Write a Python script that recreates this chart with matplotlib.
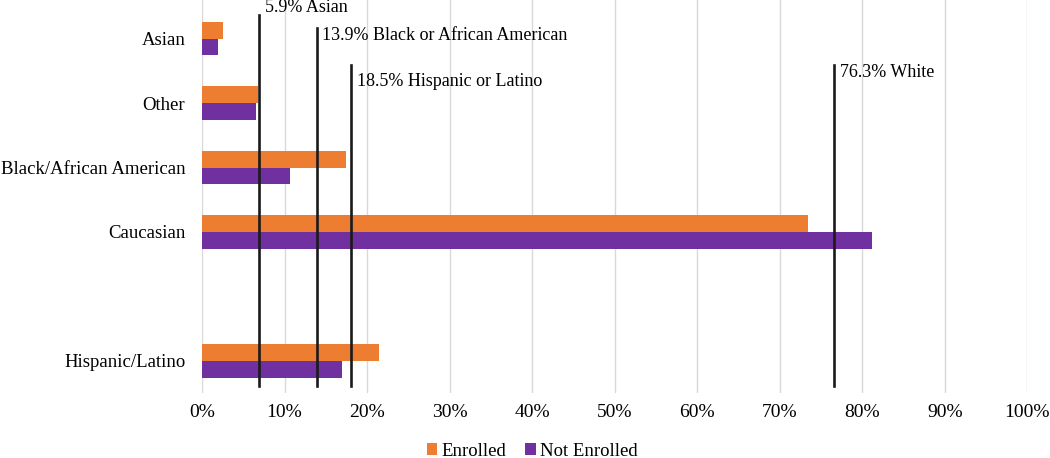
import matplotlib
matplotlib.use("Agg")
import matplotlib.pyplot as plt
import numpy as np

plt.rcParams['font.family'] = ['Liberation Serif', 'DejaVu Serif']

# data (percent)
categories = ["Asian", "Other", "Black/African American", "Caucasian", "", "Hispanic/Latino"]
enrolled = [2.5, 6.8, 17.5, 73.4, np.nan, 21.4]
not_enrolled = [1.9, 6.6, 10.6, 81.2, np.nan, 17.0]

# reference population lines: drawn position, label
ref_pos = [6.9, 13.9, 18.1, 76.6]
ref_labels = ["5.9% Asian", "13.9% Black or African American",
              "18.5% Hispanic or Latino", "76.3% White"]
ref_top = [0.962, 0.929, 0.835, 0.835]      # axes fraction
ref_text_y = [0.969, 0.898, 0.781, 0.805]

orange = "#ED7D31"
purple = "#7030A0"

fig = plt.figure(figsize=(10.5, 4.58), dpi=100)
ax = fig.add_axes([0.1924, 0.1419, 0.786, 0.8581])

y = np.arange(len(categories))
h = 0.26
ax.barh(y - h / 2, enrolled, height=h, color=orange, label="Enrolled", zorder=2)
ax.barh(y + h / 2, not_enrolled, height=h, color=purple, label="Not Enrolled", zorder=2)

trans = ax.get_xaxis_transform()
for pos, lab, top, ty in zip(ref_pos, ref_labels, ref_top, ref_text_y):
    ax.plot([pos, pos], [0.017, top], transform=trans, color="#1a1a1a", lw=1.9,
            zorder=3, clip_on=False)
    ax.annotate(lab, xy=(pos, ty), xycoords=trans, xytext=(4, 0),
                textcoords="offset points", va="baseline", ha="left",
                fontsize=13, annotation_clip=False)

ax.set_xlim(0, 100)
ax.set_ylim(5.5, -0.6)
ax.set_xticks(np.arange(0, 101, 10))
ax.set_xticklabels([f"{v}%" for v in range(0, 101, 10)])
ax.set_yticks([0, 1, 2, 3, 5])
ax.set_yticklabels([c for c in categories if c])
ax.tick_params(axis="both", length=0)
ax.tick_params(axis="y", pad=12, labelsize=13.5)
ax.tick_params(axis="x", pad=8, labelsize=14)
ax.grid(axis="x", color="#d9d9d9", lw=1, zorder=0)
ax.set_axisbelow(True)
for s in ax.spines.values():
    s.set_visible(False)

fig.legend(loc="center", bbox_to_anchor=(0.507, 1 - 451 / 458), ncol=2,
           frameon=False, fontsize=13.5, handlelength=0.55, handleheight=0.55,
           handletextpad=0.25, columnspacing=1.0, borderpad=0)

fig.savefig("out.png", dpi=100)
